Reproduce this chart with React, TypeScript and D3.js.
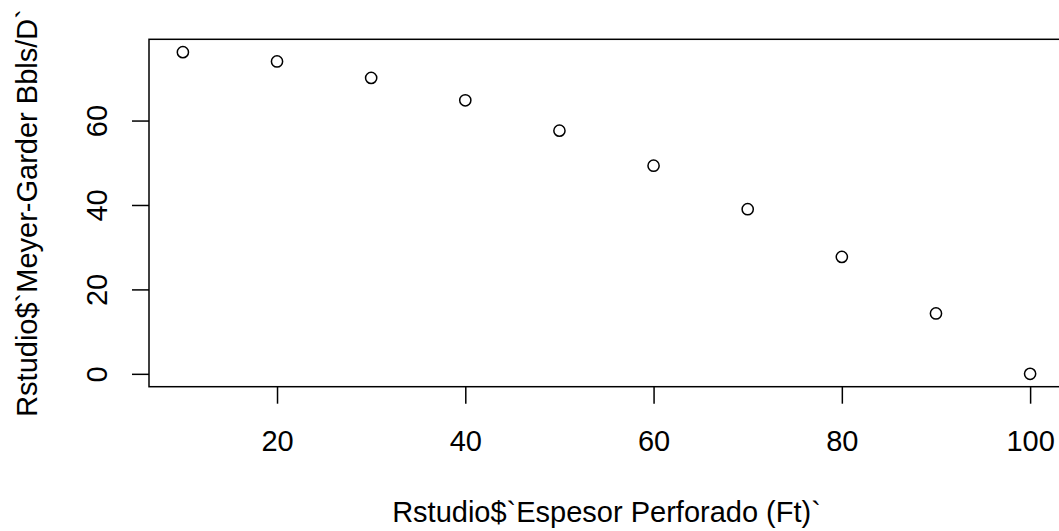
import React, {useEffect, useRef} from 'react'
import * as d3 from 'd3'

const espesor = [10, 20, 30, 40, 50, 60, 70, 80, 90, 100]
const meyerGarder = [76.2, 74.0, 70.1, 64.8, 57.6, 49.3, 39.0, 27.7, 14.3, 0]
const xTicks = [20, 40, 60, 80, 100]
const yTicks = [0, 20, 40, 60]
const xLabel = 'Rstudio$`Espesor Perforado (Ft)`'
const yLabel = 'Rstudio$`Meyer-Garder Bbls/D`'

const W = 1059
const H = 531

const App = () => {
  const ref = useRef<SVGSVGElement>(null)

  useEffect(() => {
    const svg = d3.select(ref.current)
    svg.selectAll('*').remove()

    const font = '"Liberation Sans", Arial, sans-serif'
    const fs = 29
    const plot = {left: 149, right: 1064, top: 39.3, bottom: 386.7}

    // R style: extend range by 4% on each side
    const pad = (lo: number, hi: number) => [lo - (hi - lo) * 0.04, hi + (hi - lo) * 0.04]
    const x = d3.scaleLinear()
      .domain(pad(d3.min(espesor)!, d3.max(espesor)!))
      .range([plot.left, plot.right])
    const y = d3.scaleLinear()
      .domain(pad(d3.min(meyerGarder)!, d3.max(meyerGarder)!))
      .range([plot.bottom, plot.top])

    svg.append('rect')
      .attr('x', plot.left)
      .attr('y', plot.top)
      .attr('width', plot.right - plot.left)
      .attr('height', plot.bottom - plot.top)
      .attr('fill', 'none')
      .attr('stroke', '#000')
      .attr('stroke-width', 1.5)

    const xAxis = svg.append('g')
      .attr('transform', `translate(0,${plot.bottom})`)
      .call(d3.axisBottom(x).tickValues(xTicks).tickSize(17).tickPadding(25).tickSizeOuter(0))
    xAxis.select('.domain').remove()
    xAxis.selectAll('line').attr('stroke', '#000').attr('stroke-width', 1.5)
    xAxis.selectAll('text')
      .attr('font-family', font)
      .attr('font-size', fs)
      .attr('fill', '#000')
      .attr('dy', null)
      .attr('y', 64)

    const yAxis = svg.append('g')
      .attr('transform', `translate(${plot.left},0)`)
      .call(d3.axisLeft(y).tickValues(yTicks).tickSize(17).tickSizeOuter(0))
    yAxis.select('.domain').remove()
    yAxis.selectAll('line').attr('stroke', '#000').attr('stroke-width', 1.5)
    yAxis.selectAll('text')
      .attr('font-family', font)
      .attr('font-size', fs)
      .attr('fill', '#000')
      .attr('text-anchor', 'middle')
      .attr('dy', null)
      .attr('x', null)
      .attr('transform', 'translate(-42,0) rotate(-90)')

    svg.append('g')
      .selectAll('circle')
      .data(espesor)
      .join('circle')
      .attr('cx', d => x(d))
      .attr('cy', (d, i) => y(meyerGarder[i]))
      .attr('r', 5.6)
      .attr('fill', 'none')
      .attr('stroke', '#000')
      .attr('stroke-width', 1.5)

    svg.append('text')
      .attr('x', (plot.left + plot.right) / 2)
      .attr('y', 521.5)
      .attr('text-anchor', 'middle')
      .attr('font-family', font)
      .attr('font-size', fs)
      .attr('fill', '#000')
      .text(xLabel)

    svg.append('text')
      .attr('transform', `translate(37,${(plot.top + plot.bottom) / 2}) rotate(-90)`)
      .attr('text-anchor', 'middle')
      .attr('font-family', font)
      .attr('font-size', fs)
      .attr('fill', '#000')
      .text(yLabel)
  }, [])

  return <svg ref={ref} width={W} height={H}
    style={{position: 'absolute', left: 0, top: 0, background: '#fff'}} />
}

export default App
